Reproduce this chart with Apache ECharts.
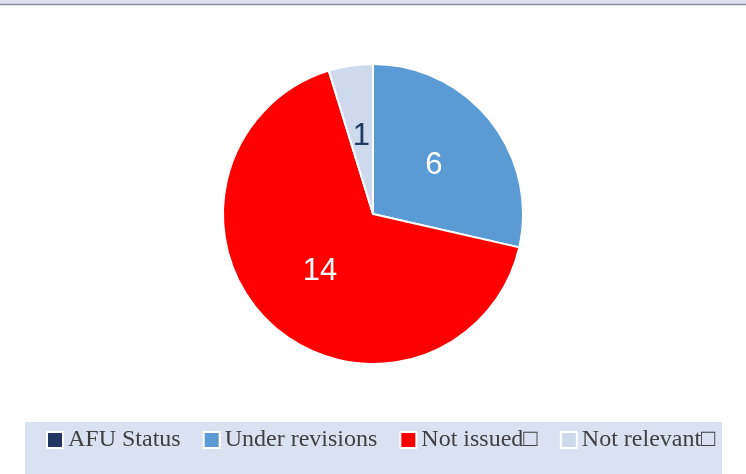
<!DOCTYPE html>
<html>
<head>
<meta charset="utf-8">
<script src="https://cdn.jsdelivr.net/npm/echarts@6/dist/echarts.min.js"></script>
<style>
  html, body { margin: 0; padding: 0; background: #ffffff; }
  #chart { width: 746px; height: 474px; }
</style>
</head>
<body>
<div id="chart"></div>
<script>
// AFU document status breakdown
const categories = ['AFU Status', 'Under revisions', 'Not issued\u25A1', 'Not relevant\u25A1'];
const counts = [0, 6, 14, 1];
const colors = ['#1f3864', '#5b9bd5', '#ff0000', '#cfd9ee'];
const labelColors = ['#ffffff', '#ffffff', '#ffffff', '#1f3864'];

const chart = echarts.init(document.getElementById('chart'), null, { renderer: 'canvas' });

const pieData = categories.map((name, i) => ({
  name: name,
  value: counts[i],
  itemStyle: { color: colors[i] },
  label: { show: counts[i] > 0, color: labelColors[i] }
}));

chart.setOption({
  backgroundColor: '#ffffff',
  animation: false,
  graphic: [
    { type: 'rect', shape: { x: 0, y: 0, width: 746, height: 5 }, style: { fill: '#dfe2ee' }, silent: true },
    { type: 'line', shape: { x1: 0, y1: 4.5, x2: 746, y2: 4.5 }, style: { stroke: '#8c91a2', lineWidth: 1.5 }, silent: true },
    { type: 'rect', shape: { x: 25, y: 422, width: 697, height: 52 }, style: { fill: '#dae2f1' }, silent: true, z: -1 }
  ],
  legend: {
    data: categories,
    left: 41,
    top: 423,
    itemWidth: 16,
    itemHeight: 16,
    itemGap: 22,
    icon: 'rect',
    itemStyle: { borderColor: '#ffffff', borderWidth: 2 },
    textStyle: { fontFamily: 'Liberation Serif', fontSize: 24, color: '#404040' },
    selectedMode: false
  },
  series: [{
    type: 'pie',
    center: [373, 214],
    radius: [0, 150],
    startAngle: 90,
    clockwise: true,
    avoidLabelOverlap: false,
    itemStyle: { borderColor: '#ffffff', borderWidth: 2 },
    label: {
      position: 'inside',
      formatter: '{c}',
      fontFamily: 'Liberation Sans',
      fontSize: 31
    },
    labelLine: { show: false },
    emphasis: { disabled: true },
    data: pieData
  }]
});
</script>
</body>
</html>
